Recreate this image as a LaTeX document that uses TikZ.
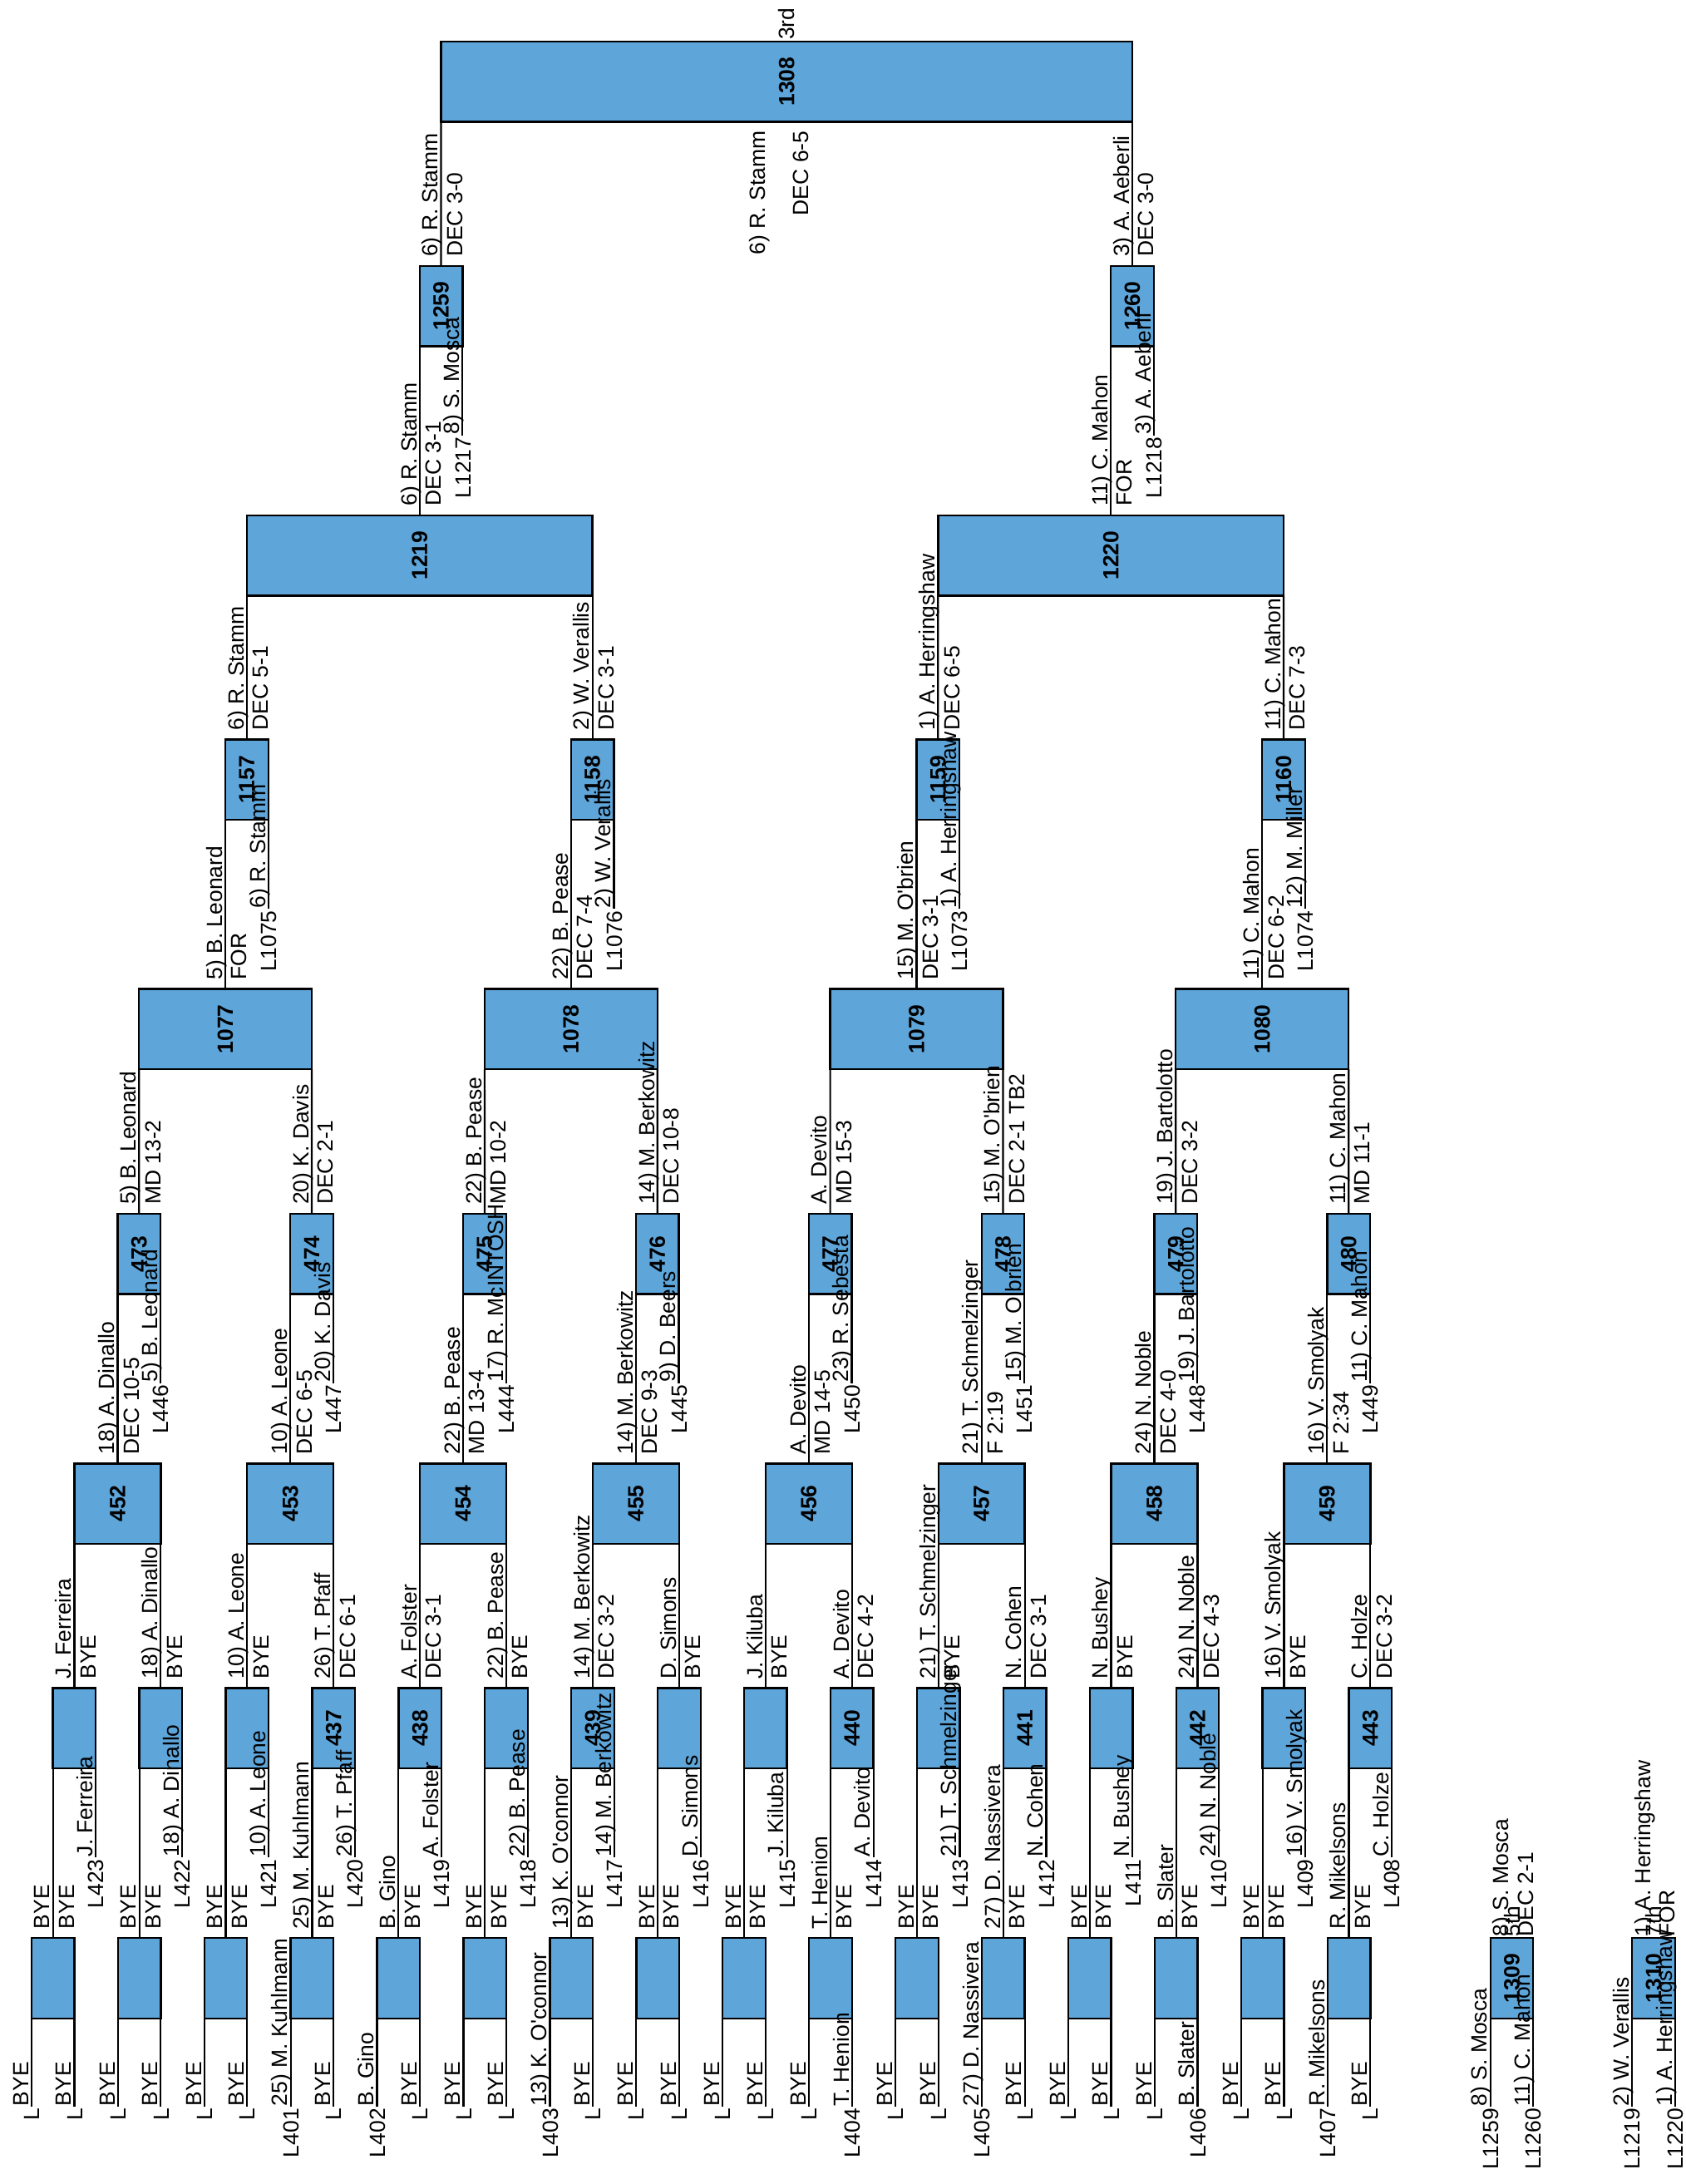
\documentclass[tikz,border=0pt]{standalone}
\usepackage{fontspec}
\setmainfont{Liberation Sans}[Ligatures=TeXOff]
\usepackage{graphicx}
\usetikzlibrary{calc}
\definecolor{boxblue}{RGB}{94,165,218}
\pgfdeclarelayer{bg}
\pgfsetlayers{bg,main}
\newcommand{\bfs}{\fontsize{15.8}{19}\selectfont}
\newcommand{\boxnum}[1]{\rotatebox{90}{#1}}
\tikzset{
  box/.style={draw=black, line width=1.4pt, fill=boxblue, inner sep=0pt, outer sep=0pt,
    minimum height=57.6pt, anchor=north west, font={\bfs\bfseries}},
  narrow/.style={box, minimum width=30.8pt},
  conn/.style={draw=black, line width=1.3pt},
  nm/.style={rotate=90, anchor=south west, inner xsep=0.5pt, inner ysep=2pt, text height=11.5pt, text depth=0pt},
  res/.style={rotate=90, anchor=north west, inner xsep=0.5pt, inner ysep=3.7pt, text height=11.5pt, text depth=0pt},
  wnm/.style={nm, inner xsep=6.5pt},
  wres/.style={res, inner xsep=6.5pt},
  lab/.style={rotate=90, anchor=east, inner xsep=1pt, inner ysep=0pt, text height=11.5pt, text depth=0pt},
  place/.style={rotate=90, anchor=west, inner xsep=1pt, inner ysep=0pt, text height=11.5pt, text depth=0pt},
}
\begin{document}
\begin{tikzpicture}[x=1pt,y=-1pt,font=\bfs]
\useasboundingbox (0,0) rectangle (1210,1568);

% ---------------- Round 1
\foreach \i/\pa/\la/\pb/\lb/\wn/\wr in {
  0/BYE/L/BYE/L/BYE/BYE,
  1/BYE/L/BYE/L/BYE/BYE,
  2/BYE/L/BYE/L/BYE/BYE,
  3/25) M. Kuhlmann/L401/BYE/L/25) M. Kuhlmann/BYE,
  4/B. Gino/L402/BYE/L/B. Gino/BYE,
  5/BYE/L/BYE/L/BYE/BYE,
  6/13) K. O'connor/L403/BYE/L/13) K. O'connor/BYE,
  7/BYE/L/BYE/L/BYE/BYE,
  8/BYE/L/BYE/L/BYE/BYE,
  9/BYE/L/T. Henion/L404/T. Henion/BYE,
  10/BYE/L/BYE/L/BYE/BYE,
  11/27) D. Nassivera/L405/BYE/L/27) D. Nassivera/BYE,
  12/BYE/L/BYE/L/BYE/BYE,
  13/BYE/L/B. Slater/L406/B. Slater/BYE,
  14/BYE/L/BYE/L/BYE/BYE,
  15/R. Mikelsons/L407/BYE/L/R. Mikelsons/BYE}{
  \pgfmathsetmacro\xl{22.6+62.03*\i}
  \begin{pgfonlayer}{bg}
    \node[narrow] (a-\i) at (\xl,1391.5) {};
    \coordinate (a-\i-p) at ($(a-\i.south west)+(0,63.5)$);
    \coordinate (a-\i-q) at ($(a-\i.south east)+(0,63.5)$);
    \draw[conn] (a-\i.south west) -- (a-\i-p);
    \draw[conn] (a-\i.south east) -- (a-\i-q);
  \end{pgfonlayer}
  \node[nm] (a-\i-n1) at (a-\i-p) {\pa};
  \node[lab] (a-\i-l1) at (a-\i-p) {\la};
  \node[nm] (a-\i-n2) at (a-\i-q) {\pb};
  \node[lab] (a-\i-l2) at (a-\i-q) {\lb};
  \node[wnm] (a-\i-wn) at (a-\i.north) {\wn};
  \node[wres] (a-\i-wr) at (a-\i.north) {\wr};
}

% ---------------- Round 2
\foreach \i/\num/\pb/\lb/\wn/\wr in {
  0/{}/J. Ferreira/L423/J. Ferreira/BYE,
  1/{}/18) A. Dinallo/L422/18) A. Dinallo/BYE,
  2/{}/10) A. Leone/L421/10) A. Leone/BYE,
  3/437/26) T. Pfaff/L420/26) T. Pfaff/DEC 6-1,
  4/438/A. Folster/L419/A. Folster/DEC 3-1,
  5/{}/22) B. Pease/L418/22) B. Pease/BYE,
  6/439/14) M. Berkowitz/L417/14) M. Berkowitz/DEC 3-2,
  7/{}/D. Simons/L416/D. Simons/BYE,
  8/{}/J. Kiluba/L415/J. Kiluba/BYE,
  9/440/A. Devito/L414/A. Devito/DEC 4-2,
  10/{}/21) T. Schmelzinger/L413/21) T. Schmelzinger/BYE,
  11/441/N. Cohen/L412/N. Cohen/DEC 3-1,
  12/{}/N. Bushey/L411/N. Bushey/BYE,
  13/442/24) N. Noble/L410/24) N. Noble/DEC 4-3,
  14/{}/16) V. Smolyak/L409/16) V. Smolyak/BYE,
  15/443/C. Holze/L408/C. Holze/DEC 3-2}{
  \pgfmathsetmacro\xl{38.0+62.03*\i}
  \begin{pgfonlayer}{bg}
    \node[narrow] (b-\i) at (\xl,1212) {\boxnum{\num}};
    \coordinate (b-\i-q) at ($(b-\i.south east)+(0,64)$);
    \draw[conn] (a-\i.north) -- (b-\i.south west);
    \draw[conn] (b-\i.south east) -- (b-\i-q);
  \end{pgfonlayer}
  \node[nm] (b-\i-n2) at (b-\i-q) {\pb};
  \node[lab] (b-\i-l2) at (b-\i-q) {\lb};
  \node[wnm] (b-\i-wn) at (b-\i.north) {\wn};
  \node[wres] (b-\i-wr) at (b-\i.north) {\wr};
}

% ---------------- Round 3
\foreach \j/\num/\wn/\wr in {
  0/452/18) A. Dinallo/DEC 10-5,
  1/453/10) A. Leone/DEC 6-5,
  2/454/22) B. Pease/MD 13-4,
  3/455/14) M. Berkowitz/DEC 9-3,
  4/456/A. Devito/MD 14-5,
  5/457/21) T. Schmelzinger/F 2:19,
  6/458/24) N. Noble/DEC 4-0,
  7/459/16) V. Smolyak/F 2:34}{
  \pgfmathsetmacro\xl{53.4+124.06*\j}
  \pgfmathtruncatemacro\ja{2*\j}
  \pgfmathtruncatemacro\jb{2*\j+1}
  \begin{pgfonlayer}{bg}
    \node[box, minimum width=62.03pt] (c-\j) at (\xl,1050.7) {\boxnum{\num}};
    \draw[conn] (b-\ja.north) -- (c-\j.south west);
    \draw[conn] (b-\jb.north) -- (c-\j.south east);
  \end{pgfonlayer}
  \node[wnm] (c-\j-wn) at (c-\j.north) {\wn};
  \node[wres] (c-\j-wr) at (c-\j.north) {\wr};
}

% ---------------- Round 4
\foreach \j/\num/\pb/\lb/\wn/\wr in {
  0/473/5) B. Leonard/L446/5) B. Leonard/MD 13-2,
  1/474/20) K. Davis/L447/20) K. Davis/DEC 2-1,
  2/475/17) R. McINTOSH/L444/22) B. Pease/MD 10-2,
  3/476/9) D. Beers/L445/14) M. Berkowitz/DEC 10-8,
  4/477/23) R. Sebesta/L450/A. Devito/MD 15-3,
  5/478/15) M. O'brien/L451/15) M. O'brien/DEC 2-1 TB2,
  6/479/19) J. Bartolotto/L448/19) J. Bartolotto/DEC 3-2,
  7/480/11) C. Mahon/L449/11) C. Mahon/MD 11-1}{
  \pgfmathsetmacro\xl{84.415+124.06*\j}
  \begin{pgfonlayer}{bg}
    \node[narrow] (d-\j) at (\xl,871.5) {\boxnum{\num}};
    \coordinate (d-\j-q) at ($(d-\j.south east)+(0,64)$);
    \draw[conn] (c-\j.north) -- (d-\j.south west);
    \draw[conn] (d-\j.south east) -- (d-\j-q);
  \end{pgfonlayer}
  \node[nm] (d-\j-n2) at (d-\j-q) {\pb};
  \node[lab] (d-\j-l2) at (d-\j-q) {\lb};
  \node[wnm] (d-\j-wn) at (d-\j.north) {\wn};
  \node[wres] (d-\j-wr) at (d-\j.north) {\wr};
}

% ---------------- Round 5
\foreach \k/\num/\wn/\wr in {
  0/1077/5) B. Leonard/FOR,
  1/1078/22) B. Pease/DEC 7-4,
  2/1079/15) M. O'brien/DEC 3-1,
  3/1080/11) C. Mahon/DEC 6-2}{
  \pgfmathsetmacro\xl{99.8+248.12*\k}
  \pgfmathtruncatemacro\ka{2*\k}
  \pgfmathtruncatemacro\kb{2*\k+1}
  \begin{pgfonlayer}{bg}
    \node[box, minimum width=124.06pt] (e-\k) at (\xl,710) {\boxnum{\num}};
    \draw[conn] (d-\ka.north) -- (e-\k.south west);
    \draw[conn] (d-\kb.north) -- (e-\k.south east);
  \end{pgfonlayer}
  \node[wnm] (e-\k-wn) at (e-\k.north) {\wn};
  \node[wres] (e-\k-wr) at (e-\k.north) {\wr};
}

% ---------------- Round 6
\foreach \k/\num/\pb/\lb/\wn/\wr in {
  0/1157/6) R. Stamm/L1075/6) R. Stamm/DEC 5-1,
  1/1158/2) W. Verallis/L1076/2) W. Verallis/DEC 3-1,
  2/1159/1) A. Herringshaw/L1073/1) A. Herringshaw/DEC 6-5,
  3/1160/12) M. Miller/L1074/11) C. Mahon/DEC 7-3}{
  \pgfmathsetmacro\xl{161.83+248.12*\k}
  \begin{pgfonlayer}{bg}
    \node[narrow] (f-\k) at (\xl,531) {\boxnum{\num}};
    \coordinate (f-\k-q) at ($(f-\k.south east)+(0,64)$);
    \draw[conn] (e-\k.north) -- (f-\k.south west);
    \draw[conn] (f-\k.south east) -- (f-\k-q);
  \end{pgfonlayer}
  \node[nm] (f-\k-n2) at (f-\k-q) {\pb};
  \node[lab] (f-\k-l2) at (f-\k-q) {\lb};
  \node[wnm] (f-\k-wn) at (f-\k.north) {\wn};
  \node[wres] (f-\k-wr) at (f-\k.north) {\wr};
}

% ---------------- Round 7
\foreach \m/\num/\wn/\wr in {
  0/1219/6) R. Stamm/DEC 3-1,
  1/1220/11) C. Mahon/FOR}{
  \pgfmathsetmacro\xl{177.23+496.24*\m}
  \pgfmathtruncatemacro\ma{2*\m}
  \pgfmathtruncatemacro\mb{2*\m+1}
  \begin{pgfonlayer}{bg}
    \node[box, minimum width=248.12pt] (g-\m) at (\xl,370) {\boxnum{\num}};
    \draw[conn] (f-\ma.north) -- (g-\m.south west);
    \draw[conn] (f-\mb.north) -- (g-\m.south east);
  \end{pgfonlayer}
  \node[wnm] (g-\m-wn) at (g-\m.north) {\wn};
  \node[wres] (g-\m-wr) at (g-\m.north) {\wr};
}

% ---------------- Round 8
\foreach \m/\num/\pb/\lb/\wn/\wr in {
  0/1259/8) S. Mosca/L1217/6) R. Stamm/DEC 3-0,
  1/1260/3) A. Aeberli/L1218/3) A. Aeberli/DEC 3-0}{
  \pgfmathsetmacro\xl{301.29+496.24*\m}
  \begin{pgfonlayer}{bg}
    \node[narrow] (h-\m) at (\xl,191) {\boxnum{\num}};
    \coordinate (h-\m-q) at ($(h-\m.south east)+(0,64)$);
    \draw[conn] (g-\m.north) -- (h-\m.south west);
    \draw[conn] (h-\m.south east) -- (h-\m-q);
  \end{pgfonlayer}
  \node[nm] (h-\m-n2) at (h-\m-q) {\pb};
  \node[lab] (h-\m-l2) at (h-\m-q) {\lb};
  \node[wnm] (h-\m-wn) at (h-\m.north) {\wn};
  \node[wres] (h-\m-wr) at (h-\m.north) {\wr};
}

% ---------------- Round 9 (3rd place)
\begin{pgfonlayer}{bg}
  \node[box, minimum width=496.24pt] (r9) at (316.69,29.8) {\boxnum{1308}};
  \draw[conn] (h-0.north) -- (r9.south west);
  \draw[conn] (h-1.north) -- (r9.south east);
\end{pgfonlayer}
\node[place] (r9-pl) at (r9.north) {3rd};
\node[nm, anchor=south east, inner xsep=6.5pt] (r9-wn) at ($(r9.south)+(-13,0)$) {6) R. Stamm};
\node[res, anchor=north east, inner xsep=6.5pt] (r9-wr) at (r9.south) {DEC 6-5};

% ---------------- 5th and 7th place
\foreach \nme/\xl/\num/\pa/\la/\pb/\lb/\wn/\wr/\pl in {
  x1/1070/1309/8) S. Mosca/L1259/11) C. Mahon/L1260/8) S. Mosca/DEC 2-1/5th,
  x2/1171.8/1310/2) W. Verallis/L1219/1) A. Herringshaw/L1220/1) A. Herringshaw/FOR/7th}{
  \begin{pgfonlayer}{bg}
    \node[narrow] (\nme) at (\xl,1391.5) {\boxnum{\num}};
    \coordinate (\nme-p) at ($(\nme.south west)+(0,63.5)$);
    \coordinate (\nme-q) at ($(\nme.south east)+(0,63.5)$);
    \draw[conn] (\nme.south west) -- (\nme-p);
    \draw[conn] (\nme.south east) -- (\nme-q);
  \end{pgfonlayer}
  \node[nm] (\nme-n1) at (\nme-p) {\pa};
  \node[lab] (\nme-l1) at (\nme-p) {\la};
  \node[nm] (\nme-n2) at (\nme-q) {\pb};
  \node[lab] (\nme-l2) at (\nme-q) {\lb};
  \node[nm, inner xsep=1pt] (\nme-wn) at (\nme.north) {\wn};
  \node[res, inner xsep=1pt] (\nme-wr) at (\nme.north) {\wr};
  \node[place] (\nme-pl) at (\nme.north) {\pl};
}
\end{tikzpicture}
\end{document}
